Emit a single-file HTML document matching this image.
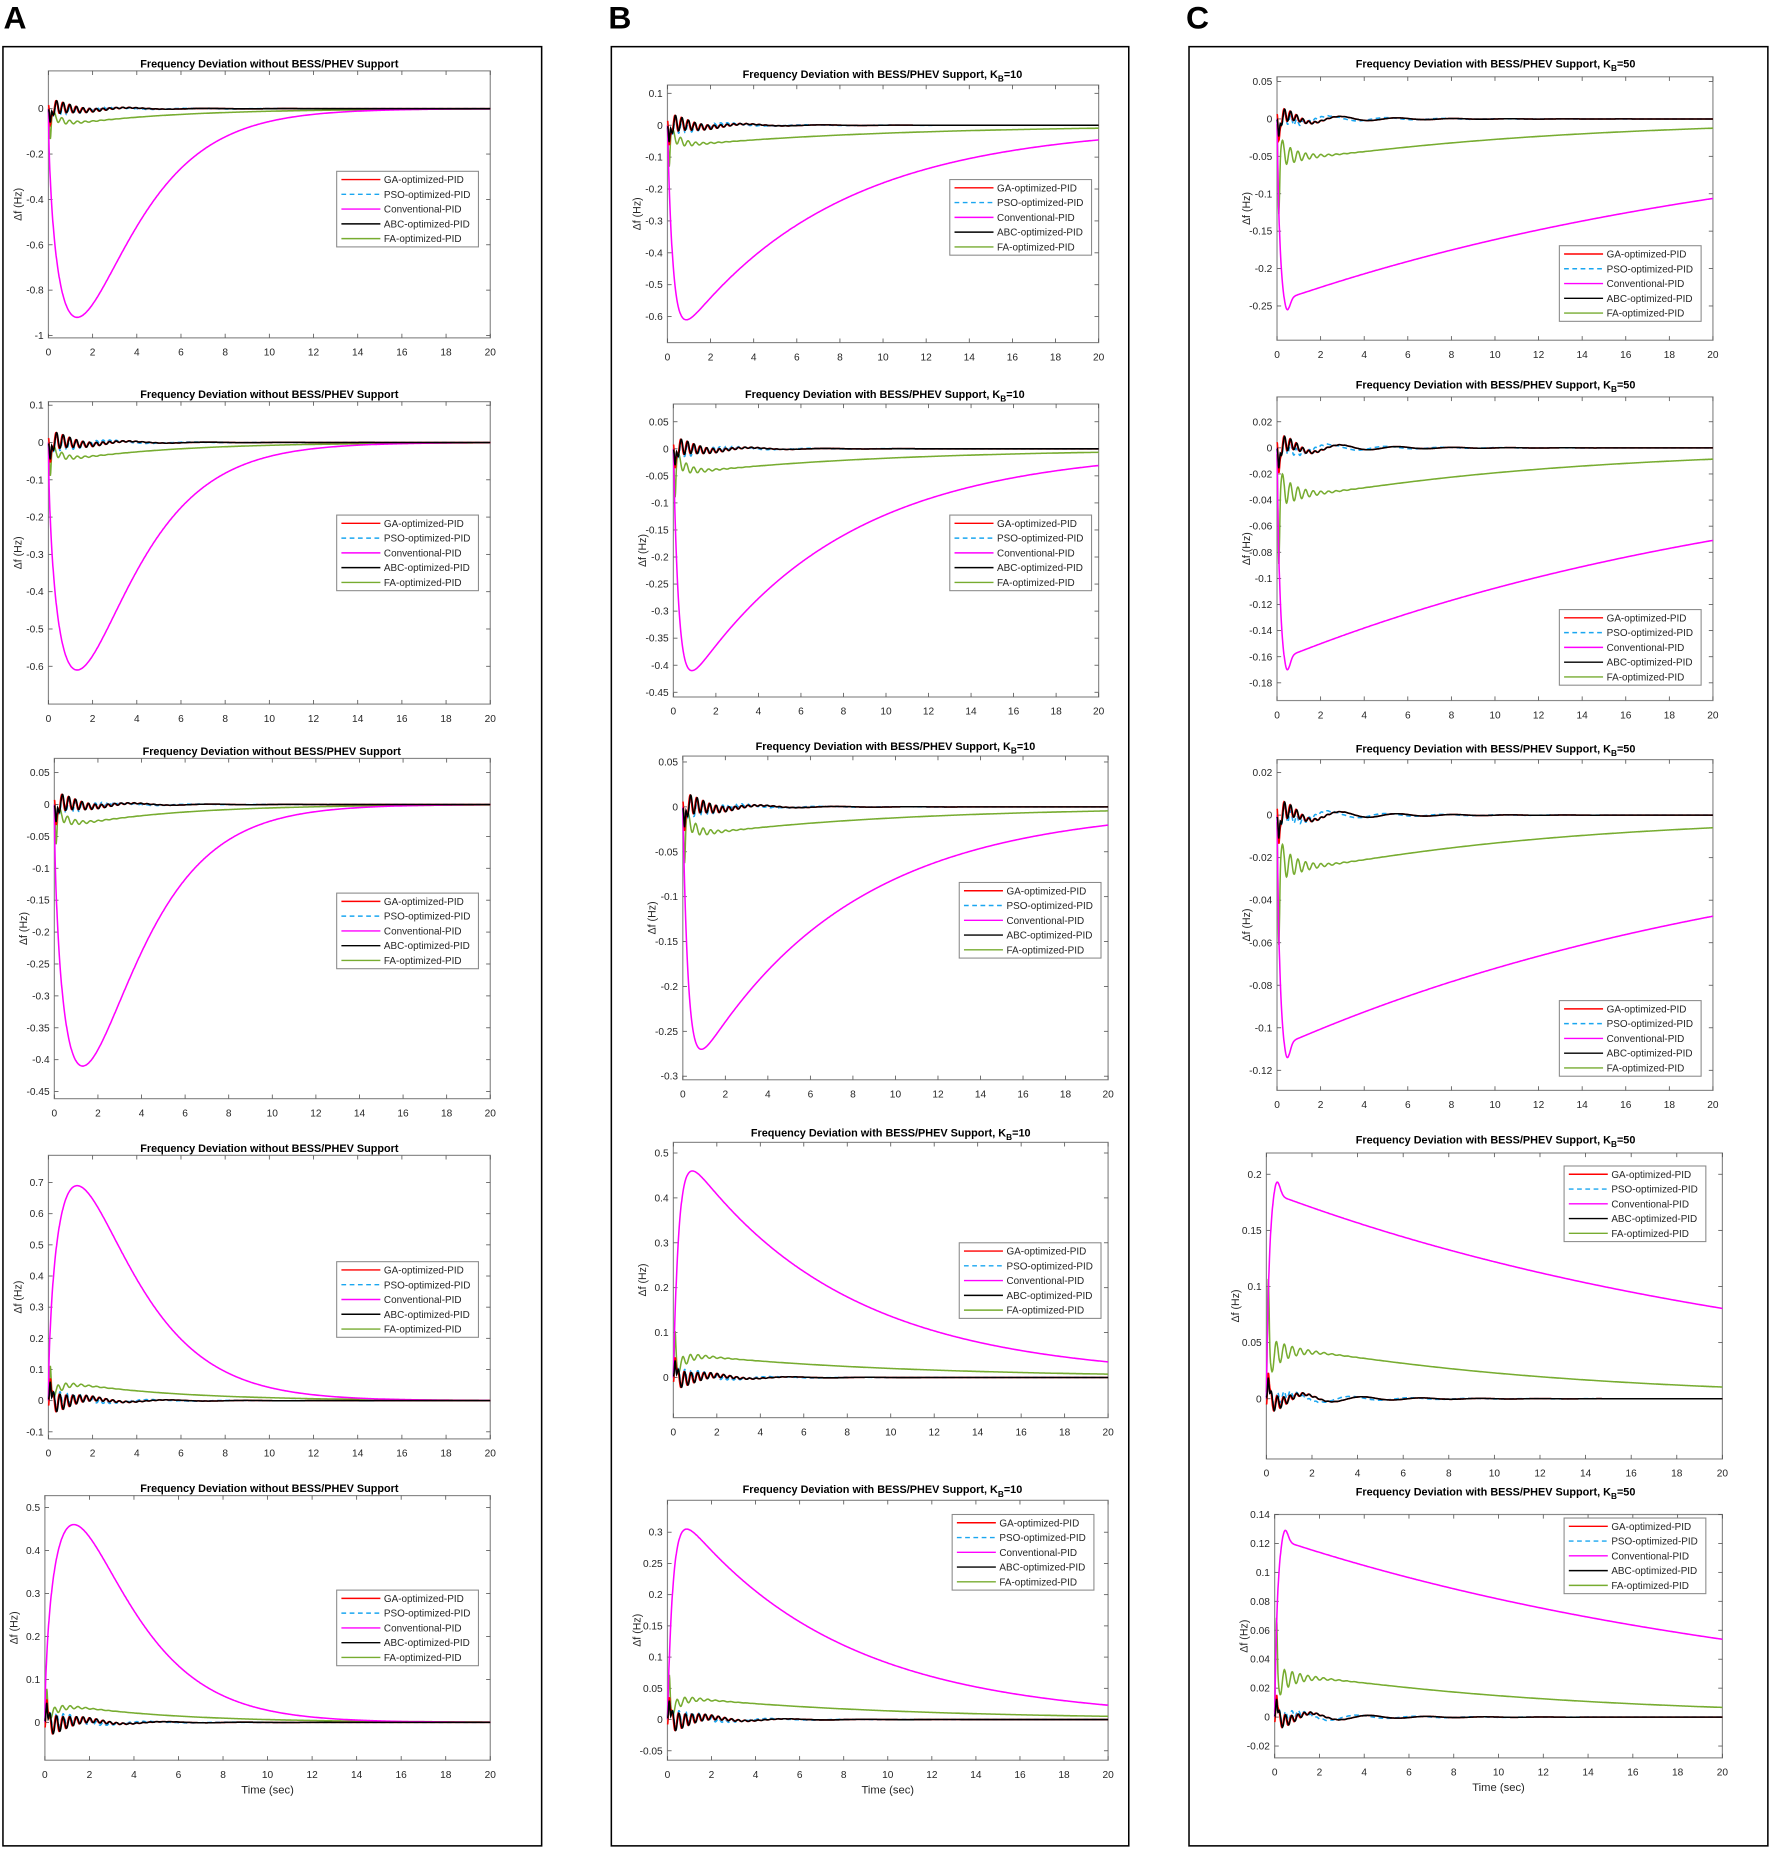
<!DOCTYPE html>
<html><head><meta charset="utf-8"><style>
html,body{margin:0;padding:0;background:#fff;}
svg{display:block;}
text{font-family:"Liberation Sans",Arial,sans-serif;}
</style></head><body>
<svg id="s" width="1772" height="1850" viewBox="0 0 1500 1566" preserveAspectRatio="none" xmlns="http://www.w3.org/2000/svg">
<rect x="0" y="0" width="1500" height="1566" fill="#fff"/>
<text x="3" y="24" font-size="27" font-weight="bold">A</text>
<text x="515" y="24" font-size="27" font-weight="bold">B</text>
<text x="1004" y="24" font-size="27" font-weight="bold">C</text>
<rect x="2.5" y="39.5" width="456" height="1523" fill="none" stroke="#000" stroke-width="1.3"/>
<rect x="517.5" y="39.5" width="438" height="1523" fill="none" stroke="#000" stroke-width="1.3"/>
<rect x="1006.5" y="39.5" width="490" height="1523" fill="none" stroke="#000" stroke-width="1.3"/>
<g id="g"></g>
</svg>
<script>
const TA="Frequency Deviation without BESS/PHEV Support";
const TB="Frequency Deviation with BESS/PHEV Support, K";
function rng(a,b,st){const r=[];for(let v=a;v<=b+1e-9;v+=st)r.push(+v.toFixed(4));return r;}
const P=[
{x0:41,x1:415,y0:60,y1:286,v0:0,p0:92,v1:-1,p1:284,tk:rng(-1,0,0.2),type:'A',s:-1,cp:0.92,g:0.06,a:0.04,lx:285,ly:145,t:TA,tx:228,ty:57},
{x0:41,x1:415,y0:340,y1:596,v0:0.1,p0:343,v1:-0.6,p1:564,tk:rng(-0.6,0.1,0.1),type:'A',s:-1,cp:0.61,g:0.04,a:0.03,lx:285,ly:436,t:TA,tx:228,ty:337},
{x0:46,x1:415,y0:642,y1:930,v0:0.05,p0:654,v1:-0.45,p1:924,tk:rng(-0.45,0.05,0.05),type:'A',s:-1,cp:0.41,g:0.028,a:0.018,lx:285,ly:756,t:TA,tx:230,ty:639},
{x0:41,x1:415,y0:978,y1:1218,v0:0.7,p0:1001,v1:-0.1,p1:1212,tk:rng(-0.1,0.7,0.1),type:'A',s:1,cp:0.69,g:0.05,a:0.04,lx:285,ly:1068,t:TA,tx:228,ty:975},
{x0:38,x1:415,y0:1266,y1:1490,v0:0.5,p0:1276,v1:0,p1:1458,tk:rng(0,0.5,0.1),type:'A',s:1,cp:0.46,g:0.035,a:0.03,lx:285,ly:1346,t:TA,tx:228,ty:1263,xl:1},
{x0:565,x1:930,y0:72,y1:290,v0:0.1,p0:79,v1:-0.6,p1:268,tk:rng(-0.6,0.1,0.1),type:'B',s:-1,cp:0.61,g:0.058,a:0.035,lx:804,ly:152,t:TB,kb:"10",tx:747,ty:66},
{x0:570,x1:930,y0:342,y1:590,v0:0.05,p0:357,v1:-0.45,p1:586,tk:rng(-0.45,0.05,0.05),type:'B',s:-1,cp:0.41,g:0.04,a:0.02,lx:804,ly:436,t:TB,kb:"10",tx:749,ty:337},
{x0:578,x1:938,y0:640,y1:914,v0:0.05,p0:645,v1:-0.3,p1:911,tk:rng(-0.3,0.05,0.05),type:'B',s:-1,cp:0.27,g:0.028,a:0.015,lx:812,ly:747,t:TB,kb:"10",tx:758,ty:635},
{x0:570,x1:938,y0:967,y1:1200,v0:0.5,p0:976,v1:0,p1:1166,tk:rng(0,0.5,0.1),type:'B',s:1,cp:0.46,g:0.046,a:0.025,lx:812,ly:1052,t:TB,kb:"10",tx:754,ty:962},
{x0:565,x1:938,y0:1270,y1:1490,v0:0.3,p0:1297,v1:-0.05,p1:1482,tk:rng(-0.05,0.3,0.05),type:'B',s:1,cp:0.305,g:0.032,a:0.02,lx:806,ly:1282,t:TB,kb:"10",tx:747,ty:1264,xl:1},
{x0:1081,x1:1450,y0:65,y1:288,v0:0.05,p0:69,v1:-0.25,p1:259,tk:rng(-0.25,0.05,0.05),type:'C',s:-1,cp:0.255,g:0.05,a:0.015,lx:1320,ly:208,t:TB,kb:"50",tx:1266,ty:57},
{x0:1081,x1:1450,y0:336,y1:593,v0:0.02,p0:357,v1:-0.18,p1:578,tk:rng(-0.18,0.02,0.02),type:'C',s:-1,cp:0.17,g:0.035,a:0.01,lx:1320,ly:516,t:TB,kb:"50",tx:1266,ty:329},
{x0:1081,x1:1450,y0:643,y1:923,v0:0.02,p0:654,v1:-0.12,p1:906,tk:rng(-0.12,0.02,0.02),type:'C',s:-1,cp:0.114,g:0.024,a:0.007,lx:1320,ly:847,t:TB,kb:"50",tx:1266,ty:637},
{x0:1072,x1:1458,y0:976,y1:1235,v0:0.2,p0:994,v1:0,p1:1184,tk:rng(0,0.2,0.05),type:'C',s:1,cp:0.193,g:0.042,a:0.012,lx:1324,ly:987,t:TB,kb:"50",tx:1266,ty:968},
{x0:1079,x1:1458,y0:1282,y1:1488,v0:0.14,p0:1282,v1:-0.02,p1:1478,tk:rng(-0.02,0.14,0.02),type:'C',s:1,cp:0.129,g:0.027,a:0.008,lx:1324,ly:1285,t:TB,kb:"50",tx:1266,ty:1266,xl:1}
];
function fmt(v){if(Math.abs(v)<1e-9)return "0";return (+v.toFixed(3)).toString();}
function convShape(type,t){
 if(type==='A'){if(t<=0)return 0;const k=0.6,u=t/1.3;return Math.pow(u,k)*Math.exp(k*(1-u));}
 if(type==='B')return Math.exp(-t/7.3)-Math.exp(-t/0.25);
 return (1-Math.exp(-t/0.12))*Math.exp(-t/24)*0.975+0.08*Math.exp(-Math.pow((t-0.45)/0.2,2));
}
function greenBase(type,t){
 if(type==='A')return (1-Math.exp(-t/0.5))*Math.exp(-t/5);
 if(type==='B')return (1-Math.exp(-t/0.4))*Math.exp(-t/10);
 return (1-Math.exp(-t/0.1))*(1-0.25*Math.exp(-t/1.2))*Math.exp(-t/12.6);
}
const gpk={};
for(const ty of ['A','B','C']){let m=0;for(let i=0;i<=4000;i++)m=Math.max(m,greenBase(ty,i*20/4000));gpk[ty]=m;}
function greenShape(type,t){
 const osc=0.45*Math.exp(-t/0.8)*Math.sin(2*Math.PI*t/0.35)*(1-Math.exp(-t/0.1));
 return greenBase(type,t)/gpk[type]+osc+1.8*Math.exp(-Math.pow((t-0.08)/0.05,2));
}
function oscShape(type,t,v){
 const per=type==='C'?0.28:0.3, td=type==='C'?0.7:1.2;
 const ph=v===1?0.03:0;
 let f=Math.sin(2*Math.PI*(t+ph)/per)*Math.exp(-t/td);
 let slowP=type==='C'?2.6:3.6;
 let sl=(type==='C'?0.6:0.35)*Math.sin(2*Math.PI*(t-1)/slowP+(v===2?1.2:0))*Math.exp(-t/3)*(1-Math.exp(-t/0.5));
 const spike=2.5*Math.exp(-Math.pow((t-0.08)/0.05,2));
 return -f+sl+spike;
}
let out="";
const N=1200;
for(const p of P){
 const Y=v=>p.p0+(v-p.v0)*(p.p1-p.p0)/(p.v1-p.v0);
 const X=t=>p.x0+t*(p.x1-p.x0)/20;
 out+=`<rect x="${p.x0}" y="${p.y0}" width="${p.x1-p.x0}" height="${p.y1-p.y0}" fill="#fff" stroke="#8a8a8a" stroke-width="1"/>`;
 for(let t=0;t<=20;t+=2){const x=X(t);
  out+=`<line x1="${x}" y1="${p.y1}" x2="${x}" y2="${p.y1-3.5}" stroke="#555" stroke-width="0.7"/><line x1="${x}" y1="${p.y0}" x2="${x}" y2="${p.y0+3.5}" stroke="#555" stroke-width="0.7"/>`;
  out+=`<text x="${x}" y="${p.y1+15}" font-size="8.6" fill="#262626" text-anchor="middle">${t}</text>`;}
 for(const v of p.tk){const y=Y(v);
  out+=`<line x1="${p.x0}" y1="${y}" x2="${p.x0+3.5}" y2="${y}" stroke="#555" stroke-width="0.7"/><line x1="${p.x1}" y1="${y}" x2="${p.x1-3.5}" y2="${y}" stroke="#555" stroke-width="0.7"/>`;
  out+=`<text x="${p.x0-4}" y="${y+3}" font-size="8.6" fill="#262626" text-anchor="end">${fmt(v)}</text>`;}
 const yc=(p.y0+p.y1)/2;
 out+=`<text transform="translate(${p.x0-23},${yc}) rotate(-90)" font-size="9" fill="#262626" text-anchor="middle">Δf (Hz)</text>`;
 if(p.kb) out+=`<text x="${p.tx}" y="${p.ty}" font-size="9.2" font-weight="bold" text-anchor="middle">${p.t}<tspan font-size="7" dy="3">B</tspan><tspan dy="-3">=${p.kb}</tspan></text>`;
 else out+=`<text x="${p.tx}" y="${p.ty}" font-size="9.2" font-weight="bold" text-anchor="middle">${p.t}</text>`;
 if(p.xl) out+=`<text x="${(p.x0+p.x1)/2}" y="${p.y1+28}" font-size="9.5" fill="#262626" text-anchor="middle">Time (sec)</text>`;
 let pk=0;for(let i=0;i<=2000;i++){pk=Math.max(pk,convShape(p.type,i*20/2000));}
 const path=f=>{let d="";for(let i=0;i<=N;i++){const t=i*20/N;let y=Y(f(t));y=Math.max(p.y0,Math.min(p.y1,y));d+=(i?"L":"M")+X(t).toFixed(1)+","+y.toFixed(1);}return d;};
 const green=path(t=>p.s*p.g*greenShape(p.type,t));
 const conv=path(t=>p.s*p.cp*convShape(p.type,t)/pk);
 const blue=path(t=>p.s*p.a*oscShape(p.type,t,2));
 const red=path(t=>p.s*p.a*oscShape(p.type,t,1));
 const blk=path(t=>p.s*p.a*oscShape(p.type,t,0));
 out+=`<g fill="none" stroke-width="1.3">`;
 out+=`<path d="${green}" stroke="#77ac30"/>`;
 out+=`<path d="${conv}" stroke="#ff00ff"/>`;
 out+=`<path d="${blue}" stroke="#1aa6f0" stroke-dasharray="4,3"/>`;
 out+=`<path d="${red}" stroke="#ff0000"/>`;
 out+=`<path d="${blk}" stroke="#000"/>`;
 out+=`</g>`;
 const lx=p.lx,ly=p.ly,lw=120,lh=64;
 out+=`<rect x="${lx}" y="${ly}" width="${lw}" height="${lh}" fill="#fff" stroke="#8a8a8a" stroke-width="0.9"/>`;
 const L=[["GA-optimized-PID","#ff0000",""],["PSO-optimized-PID","#1aa6f0","4,3"],["Conventional-PID","#ff00ff",""],["ABC-optimized-PID","#000",""],["FA-optimized-PID","#77ac30",""]];
 L.forEach((e,i)=>{const y=ly+7+i*12.5;
  out+=`<line x1="${lx+4}" y1="${y}" x2="${lx+37}" y2="${y}" stroke="${e[1]}" stroke-width="1.2" ${e[2]?`stroke-dasharray="${e[2]}"`:""}/>`;
  out+=`<text x="${lx+40}" y="${y+3}" font-size="8.4" fill="#262626">${e[0]}</text>`;});
}
document.getElementById("g").innerHTML=out;
</script>
</body></html>
